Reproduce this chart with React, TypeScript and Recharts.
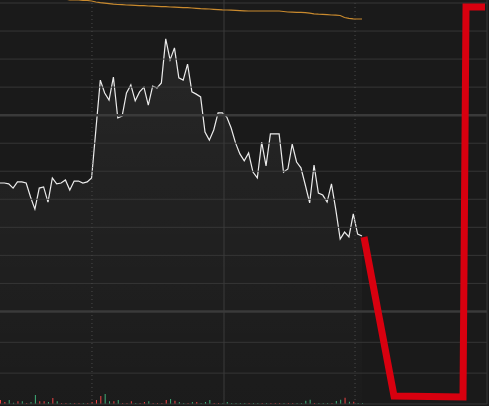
import { ComposedChart, Area, Line, Bar, Cell, XAxis, YAxis, ReferenceLine } from 'recharts'

// intraday last price, one point per bar
const price = [
  10.358, 10.358, 10.355, 10.34, 10.362, 10.362, 10.358, 10.308, 10.265, 10.34,
  10.344, 10.29, 10.376, 10.355, 10.358, 10.369, 10.333, 10.365, 10.365, 10.358,
  10.362, 10.376, 10.551, 10.725, 10.679, 10.654, 10.736, 10.59, 10.597, 10.679,
  10.708, 10.651, 10.683, 10.7, 10.636, 10.704, 10.697, 10.715, 10.872, 10.797,
  10.84, 10.733, 10.725, 10.782, 10.683, 10.675, 10.665, 10.54, 10.511, 10.547,
  10.608, 10.608, 10.593, 10.554, 10.501, 10.462, 10.437, 10.465, 10.397, 10.376,
  10.504, 10.419, 10.533, 10.533, 10.533, 10.397, 10.408, 10.497, 10.433, 10.412,
  10.351, 10.287, 10.422, 10.322, 10.315, 10.29, 10.355, 10.262, 10.158, 10.183,
  10.166, 10.248, 10.176, 10.169,
]

// average price line (starts above the visible range)
const avgPrice: (number | null)[] = [
  null, null, null, null, null, null, null, null, null, null,
  null, null, null, null, null, 11.0143, 11.0107, 11.0107, 11.0107, 11.0096,
  11.0089, 11.0071, 11.0036, 11.0011, 10.9993, 10.9975, 10.9957, 10.9947, 10.9939, 10.9929,
  10.9922, 10.9914, 10.9907, 10.9904, 10.9893, 10.9886, 10.9879, 10.9872, 10.9868, 10.9857,
  10.985, 10.9843, 10.9836, 10.9832, 10.9822, 10.9811, 10.98, 10.9793, 10.9786, 10.9775,
  10.9765, 10.9754, 10.975, 10.9743, 10.9736, 10.9729, 10.9722, 10.9715, 10.9715, 10.9715,
  10.9715, 10.9715, 10.9715, 10.9715, 10.9715, 10.9697, 10.9679, 10.9672, 10.9668, 10.9668,
  10.9658, 10.9636, 10.9615, 10.9601, 10.9593, 10.9583, 10.9572, 10.9565, 10.9554, 10.9483,
  10.9454, 10.9437, 10.9429, 10.9429,
]

const volume = [
  400, 200, 400, 130, 270, 270, 100, 200, 900, 270,
  270, 200, 600, 270, 100, 100, 100, 100, 100, 100,
  100, 200, 400, 800, 1000, 270, 270, 400, 100, 100,
  270, 100, 100, 200, 270, 100, 100, 100, 400, 500,
  330, 200, 100, 100, 200, 200, 100, 200, 400, 100,
  100, 100, 200, 100, 100, 100, 100, 100, 100, 100,
  100, 100, 100, 100, 100, 100, 100, 100, 100, 100,
  330, 430, 100, 100, 100, 100, 100, 300, 430, 630,
  230, 230, 100, 100,
]

const volSide = [
  'd', 'd', 'u', 'u', 'd', 'u', 'd', 'u', 'u', 'd',
  'd', 'u', 'd', 'u', 'd', 'd', 'u', 'd', 'd', 'u',
  'd', 'd', 'd', 'd', 'u', 'u', 'd', 'u', 'd', 'd',
  'd', 'u', 'd', 'd', 'u', 'd', 'd', 'd', 'd', 'u',
  'd', 'u', 'u', 'd', 'u', 'd', 'u', 'u', 'u', 'd',
  'd', 'u', 'u', 'u', 'u', 'u', 'u', 'd', 'u', 'u',
  'd', 'u', 'd', 'd', 'd', 'u', 'd', 'd', 'u', 'u',
  'u', 'u', 'd', 'u', 'u', 'u', 'd', 'u', 'u', 'd',
  'u', 'd', 'u', 'u',
]

// hand-drawn red marker
const sketchX = [83.46, 90.34, 106.16, 106.85, 111.2]
const sketchY = [10.1655, 9.5985, 9.5949, 10.9857, 10.9857]

const gridPrices = [11.0, 10.9, 10.8, 10.7, 10.6, 10.5, 10.4, 10.3, 10.2, 10.1, 10.0, 9.9, 9.79, 9.68, 9.57]
const boldPrices = [10.6, 9.9]
const dottedMarks = [21.09, 81.4]
const solidMarks = [51.36]

const X_MAX = 111.66
const Y_MIN = 9.5699
const Y_MAX = 11.0107

const data = price.map((p, i) => ({
  t: i,
  price: p,
  avg: avgPrice[i],
  vol: volume[i],
}))

const sketch = sketchX.map((x, i) => ({ t: x, mark: sketchY[i] }))

const GRID = '#363636'

export default function App() {
  return (
    <div style={{ position: 'absolute', left: 0, top: 0, width: 489, height: 406, background: '#1a1a1a' }}>
      <ComposedChart width={489} height={406} data={data} margin={{ top: 0, right: 2, bottom: 2, left: 0 }}>
        <defs>
          <linearGradient id="priceFill" x1="0" y1="0" x2="0" y2="1">
            <stop offset="0%" stopColor="#ffffff" stopOpacity={0.09} />
            <stop offset="100%" stopColor="#ffffff" stopOpacity={0.01} />
          </linearGradient>
        </defs>
        <XAxis dataKey="t" type="number" domain={[0, X_MAX]} hide />
        <YAxis yAxisId="p" type="number" domain={[Y_MIN, Y_MAX]} allowDataOverflow hide />
        <YAxis yAxisId="v" type="number" domain={[0, 40400]} hide />

        {gridPrices.map(v => (
          <ReferenceLine key={'g' + v} yAxisId="p" y={v} stroke={GRID} strokeWidth={1} />
        ))}
        {boldPrices.map(v => (
          <ReferenceLine key={'b' + v} yAxisId="p" y={v} stroke="#3a3a3a" strokeWidth={2.5} />
        ))}
        {dottedMarks.map(v => (
          <ReferenceLine key={'d' + v} yAxisId="p" x={v} stroke="#4a4a4a" strokeDasharray="1 3" />
        ))}
        {solidMarks.map(v => (
          <ReferenceLine key={'s' + v} yAxisId="p" x={v} stroke="#3a3a3a" />
        ))}
        <ReferenceLine yAxisId="p" x={X_MAX} stroke={GRID} />

        <Area
          yAxisId="p"
          type="linear"
          dataKey="price"
          stroke="#ececec"
          strokeWidth={1.2}
          fill="url(#priceFill)"
          dot={false}
          activeDot={false}
          isAnimationActive={false}
        />
        <Line
          yAxisId="p"
          type="linear"
          dataKey="avg"
          stroke="#c98a2e"
          strokeWidth={1.2}
          dot={false}
          activeDot={false}
          isAnimationActive={false}
        />
        <Bar yAxisId="v" dataKey="vol" barSize={1} isAnimationActive={false}>
          {data.map((_, i) => (
            <Cell key={i} fill={volSide[i] === 'u' ? '#3fae78' : '#ee4444'} />
          ))}
        </Bar>
        <Line
          yAxisId="p"
          data={sketch}
          type="linear"
          dataKey="mark"
          stroke="#d8000f"
          strokeWidth={7}
          dot={false}
          activeDot={false}
          isAnimationActive={false}
        />
      </ComposedChart>
    </div>
  )
}
